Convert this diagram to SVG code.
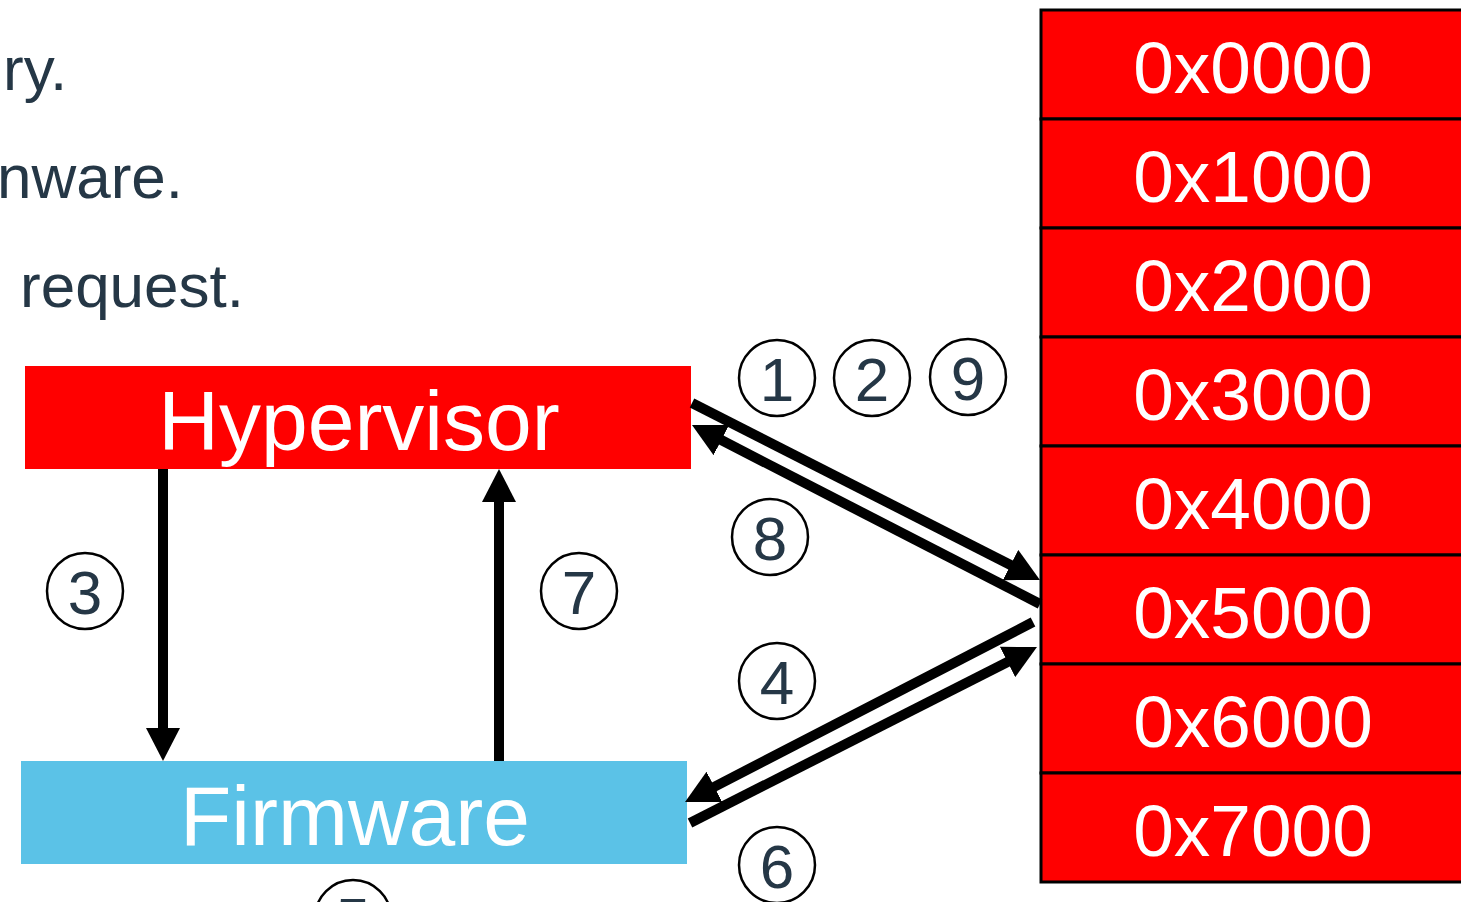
<svg xmlns="http://www.w3.org/2000/svg" width="1461" height="902" viewBox="0 0 1461 902">
<style>
.t{font-family:"Liberation Sans",Arial,sans-serif;fill:#253746;font-size:62px}
.box{font-family:"Liberation Sans",Arial,sans-serif;fill:#fff;font-size:84px;text-anchor:middle}
.mem rect{fill:#ff0000;stroke:#000;stroke-width:3}
.mem text{font-family:"Liberation Sans",Arial,sans-serif;fill:#fff;font-size:73px;text-anchor:middle}
.num circle{fill:#fff;stroke:#000;stroke-width:2.5}
.num text{font-family:"Liberation Sans",Arial,sans-serif;fill:#253746;font-size:62px;text-anchor:middle}
.conn line{stroke:#000;stroke-width:10;marker-end:url(#ah)}
</style>
<defs>
<marker id="ah" markerUnits="userSpaceOnUse" markerWidth="34" markerHeight="34" refX="5" refY="17" orient="auto" viewBox="0 0 34 34">
<path d="M0,0 L33,17 L0,34 z" fill="#000"/>
</marker>
</defs>
<rect width="1461" height="902" fill="#fff"/>
<g id="notes">
<text class="t" x="3" y="90">ry.</text>
<text class="t" x="183" y="198" text-anchor="end">nware.</text>
<text class="t" x="20" y="307">request.</text>
</g>
<g id="memory" class="mem">
<rect x="1041" y="10" width="430" height="109"/><text x="1253" y="93">0x0000</text>
<rect x="1041" y="119" width="430" height="109"/><text x="1253" y="202">0x1000</text>
<rect x="1041" y="228" width="430" height="109"/><text x="1253" y="311">0x2000</text>
<rect x="1041" y="337" width="430" height="109"/><text x="1253" y="420">0x3000</text>
<rect x="1041" y="446" width="430" height="109"/><text x="1253" y="529">0x4000</text>
<rect x="1041" y="555" width="430" height="109"/><text x="1253" y="638">0x5000</text>
<rect x="1041" y="664" width="430" height="109"/><text x="1253" y="747">0x6000</text>
<rect x="1041" y="773" width="430" height="109"/><text x="1253" y="856">0x7000</text>
</g>
<g id="hypervisor">
<rect x="25" y="366" width="666" height="103" fill="#ff0000"/>
<text class="box" x="359" y="450">Hypervisor</text>
</g>
<g id="firmware">
<rect x="21" y="761" width="666" height="103" fill="#5bc2e7"/>
<text class="box" x="355" y="845">Firmware</text>
</g>
<g id="connectors" class="conn">
<line x1="692" y1="403" x2="1015" y2="567.3"/>
<line x1="1040" y1="604" x2="716.9" y2="437.8"/>
<line x1="1033" y1="622" x2="709.9" y2="789.1"/>
<line x1="690" y1="823" x2="1012" y2="659.7"/>
<line x1="163" y1="469" x2="163" y2="733"/>
<line x1="499" y1="761" x2="499" y2="497"/>
</g>
<g id="step1" class="num"><circle cx="777" cy="378" r="38"/><text x="777" y="401">1</text></g>
<g id="step2" class="num"><circle cx="872" cy="378" r="38"/><text x="872" y="401">2</text></g>
<g id="step9" class="num"><circle cx="968" cy="377" r="38"/><text x="968" y="400">9</text></g>
<g id="step8" class="num"><circle cx="770" cy="537" r="38"/><text x="770" y="560">8</text></g>
<g id="step3" class="num"><circle cx="85" cy="591" r="38"/><text x="85" y="614">3</text></g>
<g id="step7" class="num"><circle cx="579" cy="591" r="38"/><text x="579" y="614">7</text></g>
<g id="step4" class="num"><circle cx="777" cy="681" r="38"/><text x="777" y="704">4</text></g>
<g id="step6" class="num"><circle cx="777" cy="865" r="38"/><text x="777" y="888">6</text></g>
<g id="step5" class="num"><circle cx="353" cy="918" r="38"/><text x="353" y="941">5</text></g>
</svg>
